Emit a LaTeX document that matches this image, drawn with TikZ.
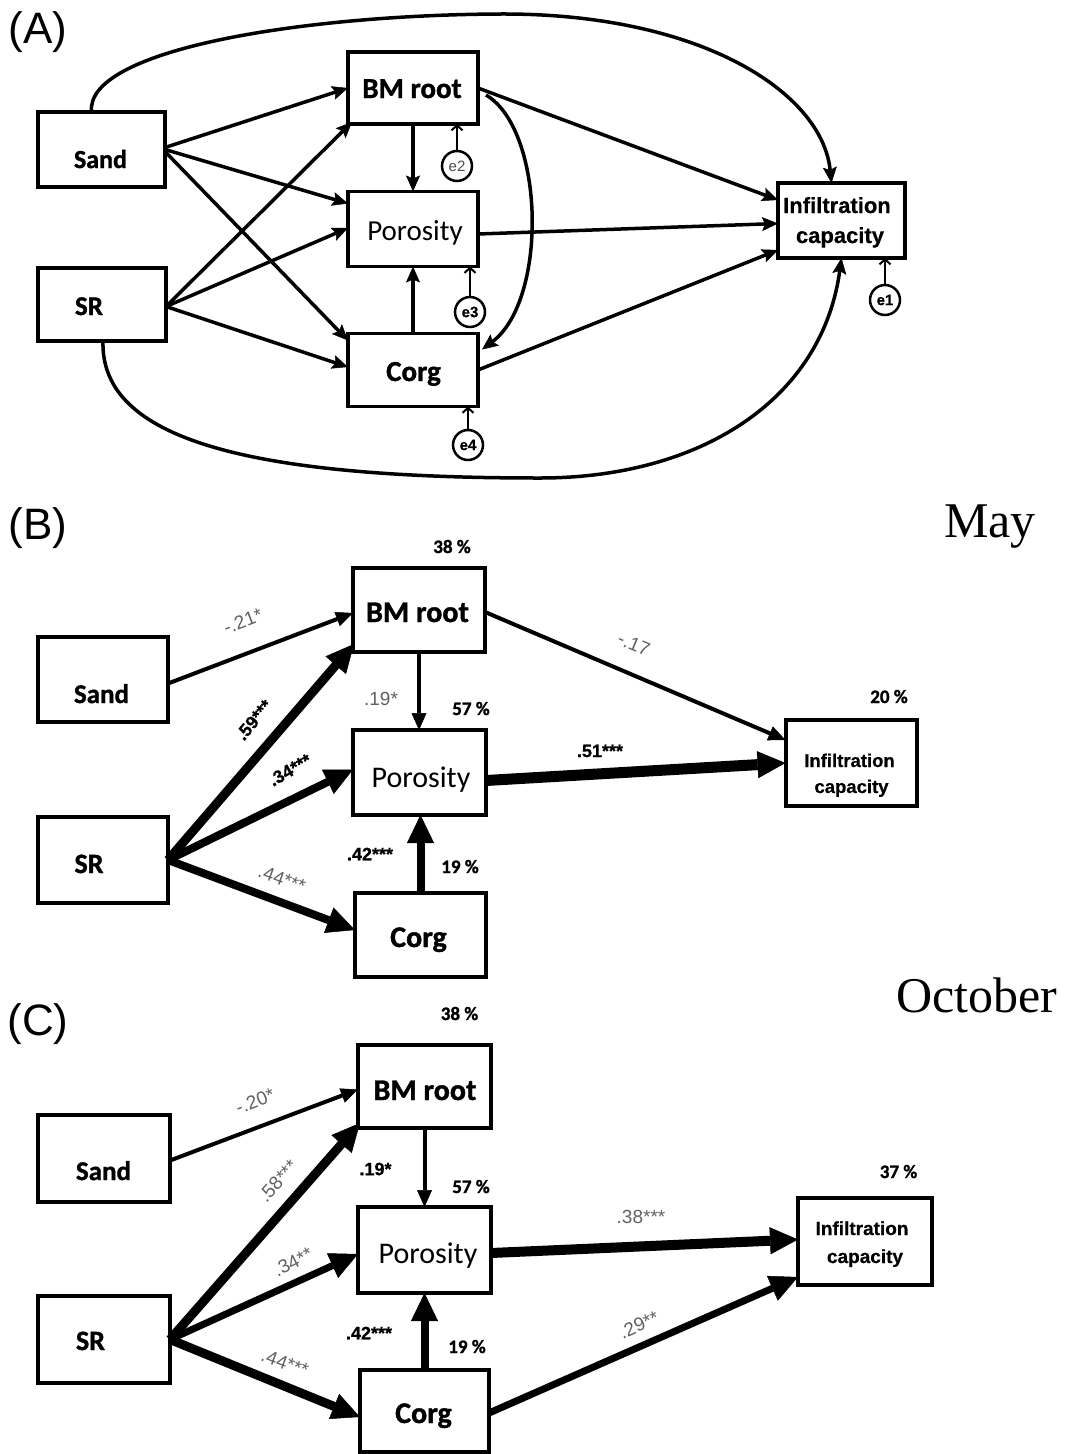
\documentclass[tikz,border=0pt]{standalone}
\usepackage{fontspec}
\setmainfont{Liberation Sans}
\newfontfamily\calfont{Carlito}[BoldFeatures={FakeBold=1.2}]
\newfontfamily\arifont{Liberation Sans}[BoldFeatures={FakeBold=0.6}]
\newfontfamily\timfont{Liberation Serif}
\usetikzlibrary{arrows.meta,calc}
\newcommand\fsz[1]{\fontsize{#1}{#1}\selectfont}
\tikzset{
  every node/.style={inner sep=0pt, outer sep=0pt},
  boxA/.style={draw, line width=3.5pt},
  boxB/.style={draw, line width=4pt},
  bt/.style={anchor=base, font=\calfont\bfseries\fsz{#1}},
  rt/.style={anchor=base, font=\calfont\fsz{#1}},
  it/.style={anchor=base, font=\arifont\bfseries\fsz{#1}},
  pct/.style={anchor=base, font=\calfont\bfseries\fsz{19}},
  panel/.style={font=\arifont\fsz{44}},
  month/.style={anchor=base, font=\timfont\fsz{50}},
  ecirc/.style={circle, draw, line width=2.5pt, minimum size=30pt, font=\arifont\bfseries\fsz{15}},
  arA/.style={line width=3.5pt, -{Stealth[length=16pt,width=14pt,inset=3pt,line width=0.5pt]}},
  eA/.style={line width=2pt, -{Straight Barb[length=5pt,width=11pt]}},
  thn/.style={line width=4pt, -{Triangle[length=17pt,width=15pt,line width=0.5pt]}},
  thk/.style={line width=#1, -{Triangle[length=28pt,width=27pt,line width=0.5pt]}},
  glab/.style={font=\arifont\fsz{19}, text=black!62},
  blab/.style={font=\arifont\bfseries\fsz{18}}
}
\begin{document}
\begin{tikzpicture}[x=1pt,y=-1pt]
\useasboundingbox (0,0) rectangle (1066,1454);

%================ Panel A ================
\node[panel] (labA) at (38,32) {(A)};
\node[boxA, minimum width=127pt, minimum height=75pt] (sandA) at (101.5,149.5) {};
\node[boxA, minimum width=128pt, minimum height=73pt] (srA) at (102,304.5) {};
\node[boxA, minimum width=130pt, minimum height=72pt] (bmA) at (413,88) {};
\node[boxA, minimum width=130pt, minimum height=75pt] (porA) at (413,229) {};
\node[boxA, minimum width=130pt, minimum height=73pt] (corgA) at (413,370) {};
\node[boxA, minimum width=127pt, minimum height=75pt] (infA) at (841.5,220.5) {};

\node[bt=26] (tSandA) at (100.5,168) {Sand};
\node[bt=27] (tSrA) at (89,315) {SR};
\node[bt=29] (tBmA) at (412,98) {BM root};
\node[rt=29] (tPorA) at (415,240) {Porosity};
\node[bt=29] (tCorgA) at (413.5,381) {Corg};
\node[it=22] (tInfA1) at (837,213) {Infiltration};
\node[it=22] (tInfA2) at (840,243) {capacity};

\node[ecirc, font=\arifont\fsz{15}, text=black!70] (e2) at (457,166) {e2};
\node[ecirc] (e3) at (470,312) {e3};
\node[ecirc] (e4) at (468,445) {e4};
\node[ecirc] (e1) at (885,300) {e1};

\draw[eA] (e2.north) -- (bmA.south -| e2.north);
\draw[eA] (e3.north) -- (porA.south -| e3.north);
\draw[eA] (e4.north) -- (corgA.south -| e4.north);
\draw[eA] (e1.north) -- (infA.south -| e1.north);

\draw[arA] ($(sandA.east)+(0,-2)$) -- (bmA.west);
\draw[arA] (sandA.east) -- ($(porA.north west)+(0,12)$);
\draw[arA] ($(sandA.east)+(0,2)$) -- ($(corgA.north west)+(0,7)$);
\draw[arA] ($(srA.east)+(0,2)$) -- ($(bmA.south west)+(4,-2)$);
\draw[arA] ($(srA.east)+(0,2)$) -- ($(porA.west)+(0,-1)$);
\draw[arA] ($(srA.east)+(0,2)$) -- ($(corgA.west)+(0,-3)$);
\draw[arA] (bmA.south) -- (porA.north);
\draw[arA] (corgA.north) -- (porA.south);
\draw[arA] (bmA.east) -- ($(infA.north west)+(0,17)$);
\draw[arA] ($(porA.east)+(0,5)$) -- ($(infA.west)+(0,3)$);
\draw[arA] (corgA.east) -- ($(infA.south west)+(0,-8)$);
\draw[arA] ($(bmA.east)+(8,7)$) .. controls ($(bmA.east)+(67,42)$) and ($(corgA.north east)+(70,-33.5)$) .. ($(corgA.north east)+(4,16)$);
\coordinate (topmid) at (500,14);
\draw[arA] ($(sandA.north)+(-10,0)$) .. controls (85,50) and (300,15) .. (topmid)
   .. controls (700,13) and (822,92) .. ($(infA.north)+(-10,0)$);
\coordinate (botmid) at (540,478);
\draw[arA] ($(srA.south)+(1,0)$) .. controls (100,440) and (250,478) .. (botmid)
   .. controls (700,478) and (822,400) .. ($(infA.south)+(0,0)$);

%================ Panel B ================
\node[panel] (labB) at (38,528) {(B)};
\node[month] (may) at (990,537) {May};
\node[boxB, minimum width=130pt, minimum height=85pt] (sandB) at (103,679.5) {};
\node[boxB, minimum width=130pt, minimum height=86pt] (srB) at (103,860) {};
\node[boxB, minimum width=132pt, minimum height=84pt] (bmB) at (419,610) {};
\node[boxB, minimum width=133pt, minimum height=85pt] (porB) at (419.5,772.5) {};
\node[boxB, minimum width=131pt, minimum height=84pt] (corgB) at (420.5,935) {};
\node[boxB, minimum width=131pt, minimum height=86pt] (infB) at (851,763) {};

\node[bt=27] (tSandB) at (101.5,703) {Sand};
\node[bt=28] (tSrB) at (89,873) {SR};
\node[bt=30] (tBmB) at (417.5,622) {BM root};
\node[rt=30] (tPorB) at (421,787) {Porosity};
\node[bt=30] (tCorgB) at (418.5,947) {Corg};
\node[it=18.5] (tInfB1) at (849.5,767) {Infiltration};
\node[it=18.5] (tInfB2) at (851.5,793) {capacity};

\node[pct] (pBm) at (452,553) {38 \%};
\node[pct] (pPor) at (471,715) {57 \%};
\node[pct] (pCorg) at (460,873) {19 \%};
\node[pct] (pInf) at (889,703) {20 \%};

\draw[thn] ($(sandB.east)+(0,4)$) -- ($(bmB.west)+(0,3)$);
\draw[thk=9pt] (srB.east) -- ($(bmB.south west)+(1,-8)$);
\draw[thk=8pt] (srB.east) -- ($(porB.west)+(0,-3)$);
\draw[thk=8pt] (srB.east) -- ($(corgB.west)+(0,-5)$);
\draw[thn] (bmB.south) -- (bmB.south |- porB.north);
\draw[thk=8pt] (corgB.north) -- (corgB.north |- porB.south);
\draw[thn] ($(bmB.east)+(0,2)$) -- ($(infB.north west)+(0,20)$);
\draw[thk=11pt] ($(porB.east)+(0,8)$) -- (infB.west);

\node[glab, rotate=21] (lB1) at (243,621) {-.21*};
\node[blab, rotate=50] (lB2) at (254,720) {.59***};
\node[blab, rotate=30] (lB3) at (290,770) {.34***};
\node[glab, rotate=-20] (lB4) at (282,879) {.44***};
\node[glab] (lB5) at (381,699) {.19*};
\node[blab] (lB6) at (370,854) {.42***};
\node[glab, rotate=-23] (lB7) at (634,644) {-.17};
\node[blab] (lB8) at (600,751) {.51***};

%================ Panel C ================
\node[panel] (labC) at (38,1024) {(C)};
\node[month] (oct) at (977,1012) {October};
\node[boxB, minimum width=132pt, minimum height=87pt] (sandC) at (104,1158.5) {};
\node[boxB, minimum width=132pt, minimum height=87pt] (srC) at (104,1339.5) {};
\node[boxB, minimum width=133pt, minimum height=83pt] (bmC) at (424.5,1086.5) {};
\node[boxB, minimum width=133pt, minimum height=86pt] (porC) at (424.5,1250) {};
\node[boxB, minimum width=129pt, minimum height=82pt] (corgC) at (424.5,1411) {};
\node[boxB, minimum width=134pt, minimum height=87pt] (infC) at (865,1241.5) {};

\node[bt=27] (tSandC) at (103.5,1180) {Sand};
\node[bt=28] (tSrC) at (90.5,1350) {SR};
\node[bt=30] (tBmC) at (425,1100) {BM root};
\node[rt=30] (tPorC) at (428,1263) {Porosity};
\node[bt=30] (tCorgC) at (423.5,1423) {Corg};
\node[it=19] (tInfC1) at (862,1235) {Infiltration};
\node[it=19] (tInfC2) at (865,1263) {capacity};

\node[pct] (qBm) at (459.5,1020) {38 \%};
\node[pct] (qPor) at (471,1193) {57 \%};
\node[pct] (qCorg) at (467,1353) {19 \%};
\node[pct] (qInf) at (898.5,1178) {37 \%};

\draw[thn] ($(sandC.east)+(0,2)$) -- ($(bmC.west)+(0,3)$);
\draw[thk=9pt] (srC.east) -- ($(bmC.south west)+(2,-5)$);
\draw[thk=7pt] (srC.east) -- ($(porC.west)+(0,4)$);
\draw[thk=9pt] (srC.east) -- ($(corgC.west)+(0,6)$);
\draw[thn] (bmC.south) -- (bmC.south |- porC.north);
\draw[thk=8pt] (corgC.north) -- (corgC.north |- porC.south);
\draw[thk=10pt] ($(porC.east)+(0,3)$) -- ($(infC.west)+(0,-2)$);
\draw[thk=7pt] ($(corgC.east)+(0,2)$) -- ($(infC.south west)+(0,-8)$);

\node[glab, rotate=21] (lC1) at (255,1101) {-.20*};
\node[glab, rotate=48] (lC2) at (278,1181) {.58***};
\node[glab, rotate=27] (lC3) at (293,1262) {.34**};
\node[glab, rotate=-20] (lC4) at (285,1363) {.44***};
\node[blab] (lC5) at (375.5,1169) {.19*};
\node[blab] (lC6) at (369,1333) {.42***};
\node[glab] (lC7) at (641,1217) {.38***};
\node[glab, rotate=24] (lC8) at (639,1325) {.29**};
\end{tikzpicture}
\end{document}
